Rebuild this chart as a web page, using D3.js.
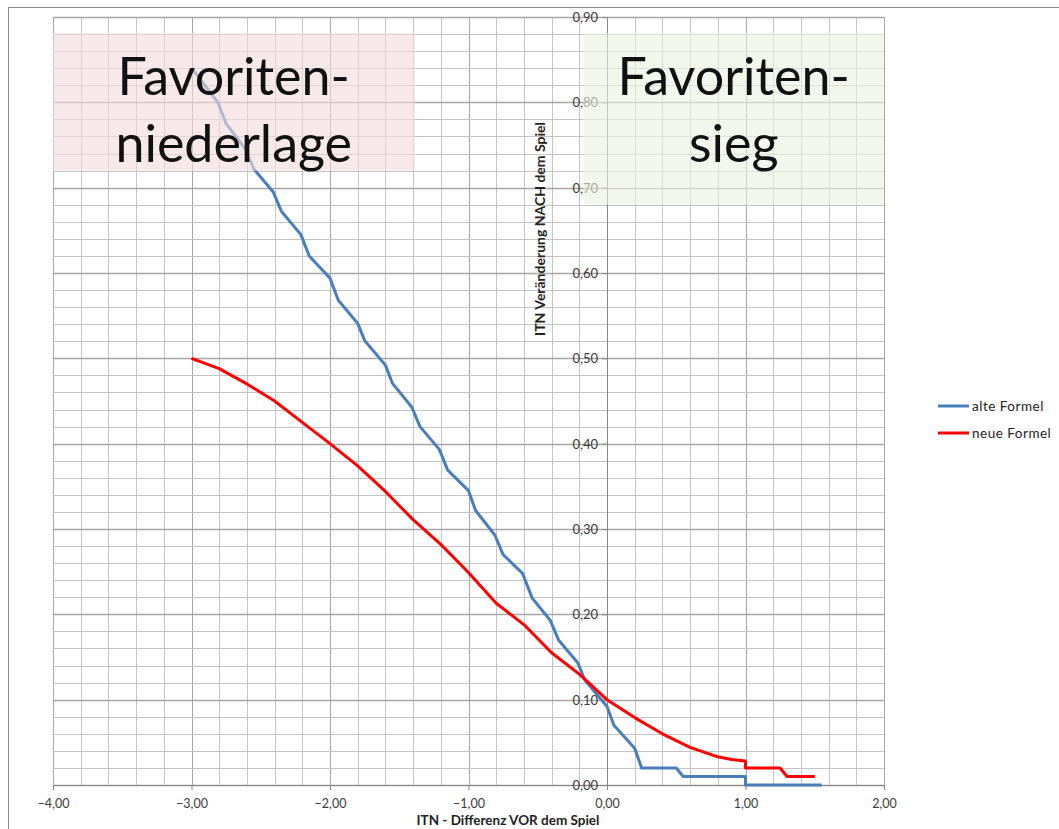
<!DOCTYPE html>
<html>
<head>
<meta charset="utf-8">
<script src="https://cdn.jsdelivr.net/npm/d3@7"></script>
<style>
  body { margin: 0; background: #fff; }
  svg { display: block; font-family: Lato, "Open Sans", sans-serif; }
</style>
</head>
<body>
<div id="chart"></div>
<script>
// ITN: change after the match vs. difference before the match
const altX = [-3.0, -2.95, -2.81, -2.75, -2.61, -2.55, -2.41, -2.35, -2.21, -2.15, -2.0, -1.94, -1.8, -1.75, -1.6, -1.55, -1.41, -1.35, -1.21, -1.15, -1.0, -0.95, -0.81, -0.75, -0.61, -0.54, -0.41, -0.35, -0.21, -0.16, 0.0, 0.05, 0.2, 0.25, 0.5, 0.55, 1.0, 1.0, 1.55];
const altY = [0.84, 0.83, 0.80, 0.775, 0.745, 0.722, 0.695, 0.672, 0.645, 0.62, 0.594, 0.568, 0.541, 0.521, 0.492, 0.471, 0.443, 0.42, 0.393, 0.369, 0.345, 0.322, 0.293, 0.27, 0.248, 0.219, 0.193, 0.17, 0.143, 0.123, 0.092, 0.07, 0.043, 0.02, 0.02, 0.01, 0.01, 0.0, 0.0];

const neuX = [-3.0, -2.8, -2.6, -2.4, -2.2, -2.0, -1.8, -1.6, -1.4, -1.2, -1.0, -0.8, -0.6, -0.4, -0.2, 0.0, 0.2, 0.4, 0.6, 0.8, 0.9, 1.0, 1.0, 1.25, 1.3, 1.5];
const neuY = [0.500, 0.488, 0.470, 0.450, 0.425, 0.400, 0.374, 0.344, 0.311, 0.282, 0.249, 0.213, 0.188, 0.155, 0.130, 0.100, 0.079, 0.060, 0.044, 0.033, 0.030, 0.028, 0.02, 0.02, 0.01, 0.01];

const xTicks = [-4, -3, -2, -1, 0, 1, 2];
const yTicks = [0, 0.1, 0.2, 0.3, 0.4, 0.5, 0.6, 0.7, 0.8, 0.9];

const seriesNames = ["alte Formel", "neue Formel"];
const seriesColors = ["#4a7ebb", "#ff0000"];

const width = 1059, height = 829;
const plot = { left: 53, right: 884, top: 17, bottom: 785 };

const de = d3.formatLocale({ decimal: ",", thousands: ".", grouping: [3], currency: ["", " €"] });
const fmt = de.format(".2f");

const svg = d3.select("#chart").append("svg")
  .attr("width", width)
  .attr("height", height);

// chart frame
svg.append("rect")
  .attr("x", 8.5).attr("y", 7.5)
  .attr("width", width + 20).attr("height", height + 20)
  .attr("fill", "#fff")
  .attr("stroke", "#8c8c8c");

const x = d3.scaleLinear().domain([-4, 2]).range([plot.left, plot.right]);
const y = d3.scaleLinear().domain([0, 0.9]).range([plot.bottom, plot.top]);

/* grid: minor every 0.2 on x, 0.02 on y */
const grid = svg.append("g");
grid.selectAll("line.v")
  .data(d3.range(0, 31))
  .join("line")
  .attr("x1", (i) => Math.round(x(-4 + i * 0.2)) + 0.5)
  .attr("x2", (i) => Math.round(x(-4 + i * 0.2)) + 0.5)
  .attr("y1", plot.top).attr("y2", plot.bottom)
  .attr("stroke", (i) => (i % 5 === 0 ? "#a6a6a6" : "#c4c4c4"))
  .attr("stroke-width", 1);
grid.selectAll("line.h")
  .data(d3.range(0, 46))
  .join("line")
  .attr("y1", (i) => Math.round(y(i * 0.02)) + 0.5)
  .attr("y2", (i) => Math.round(y(i * 0.02)) + 0.5)
  .attr("x1", plot.left).attr("x2", plot.right)
  .attr("stroke", (i) => (i % 5 === 0 ? "#a6a6a6" : "#c4c4c4"))
  .attr("stroke-width", (i) => (i % 5 === 0 ? 1.4 : 1));

/* axes cross at 0 / 0 */
const xAxis = svg.append("g")
  .attr("transform", `translate(0, ${y(0)})`)
  .call(d3.axisBottom(x).tickValues(xTicks).tickFormat(fmt).tickSize(5).tickPadding(9));
const yAxis = svg.append("g")
  .attr("transform", `translate(${x(0)}, 0)`)
  .call(d3.axisLeft(y).tickValues(yTicks).tickFormat(fmt).tickSize(5).tickPadding(4));
[xAxis, yAxis].forEach((g) => {
  g.attr("font-size", null).attr("font-family", null);
  g.select(".domain").attr("stroke", "#868686");
  g.selectAll(".tick line").attr("stroke", "#868686");
  g.selectAll(".tick text")
    .attr("fill", "#3a3a3a")
    .style("font-size", "13px")
    .style("font-family", "Lato, sans-serif");
});
xAxis.selectAll(".tick text").style("font-size", "12.5px");
yAxis.selectAll(".tick text").attr("dy", "0.35em");

/* series */
const line = d3.line().x((d) => x(d[0])).y((d) => y(d[1]));
const series = [d3.zip(altX, altY), d3.zip(neuX, neuY)];
svg.append("g")
  .selectAll("path")
  .data(series)
  .join("path")
  .attr("d", line)
  .attr("fill", "none")
  .attr("stroke", (d, i) => seriesColors[i])
  .attr("stroke-width", 3)
  .attr("stroke-linejoin", "round");

/* shaded annotation boxes */
const boxes = [
  { x0: -4, x1: -1.39, y0: 0.72, y1: 0.881, fill: "#f2dcdb", lines: ["Favoriten-", "niederlage"] },
  { x0: -0.17, x1: 2, y0: 0.68, y1: 0.881, fill: "#ebf1de", lines: ["Favoriten-", "sieg"] },
];
const boxG = svg.append("g")
  .selectAll("g")
  .data(boxes)
  .join("g");
boxG.append("rect")
  .attr("x", (d) => x(d.x0))
  .attr("y", (d) => y(d.y1))
  .attr("width", (d) => x(d.x1) - x(d.x0))
  .attr("height", (d) => y(d.y0) - y(d.y1))
  .attr("fill", (d) => d.fill)
  .attr("opacity", 0.62);
boxG.selectAll("text")
  .data((d) => d.lines.map((t, i) => ({ t, i, cx: (x(d.x0) + x(d.x1)) / 2 })))
  .join("text")
  .attr("x", (d) => d.cx)
  .attr("y", (d) => 95 + d.i * 67)
  .attr("text-anchor", "middle")
  .attr("fill", "#111")
  .style("font-size", "52px")
  .text((d) => d.t);

/* axis titles */
svg.append("text")
  .attr("x", 508).attr("y", 825)
  .attr("text-anchor", "middle")
  .style("font-size", "13.5px").style("font-weight", "bold")
  .attr("fill", "#222")
  .text("ITN - Differenz VOR dem Spiel");
svg.append("text")
  .attr("transform", `translate(545, 229) rotate(-90)`)
  .attr("text-anchor", "middle")
  .style("font-size", "14px").style("font-weight", "bold")
  .attr("fill", "#222")
  .text("ITN Veränderung NACH dem Spiel");

/* legend */
const legend = svg.append("g")
  .attr("transform", "translate(938, 406)")
  .selectAll("g")
  .data(seriesNames)
  .join("g")
  .attr("transform", (d, i) => `translate(0, ${i * 27})`);
legend.append("line")
  .attr("x1", 0).attr("x2", 31)
  .attr("stroke", (d, i) => seriesColors[i])
  .attr("stroke-width", 3);
legend.append("text")
  .attr("x", 34).attr("dy", "0.35em")
  .style("font-size", "13.5px")
  .style("letter-spacing", "0.5px")
  .attr("fill", "#222")
  .text((d) => d);
</script>
</body>
</html>
